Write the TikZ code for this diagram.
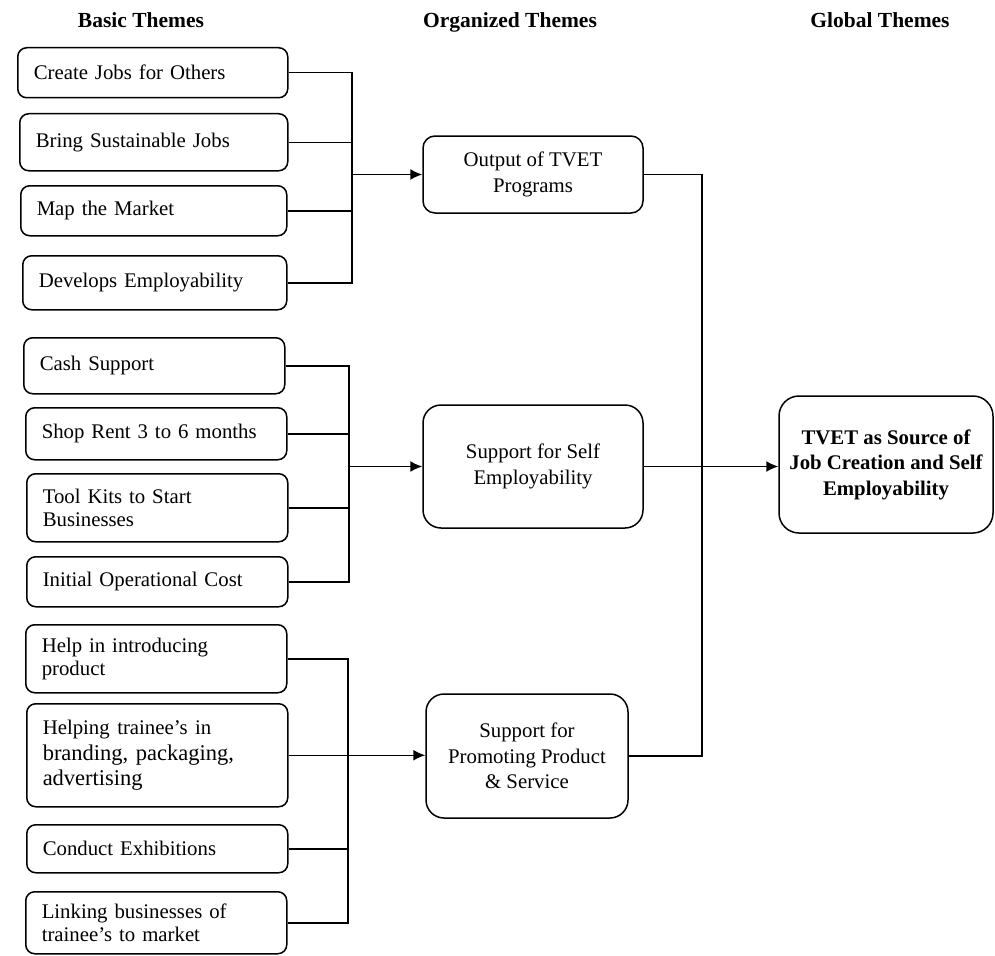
\documentclass[tikz,border=0pt]{standalone}
\usepackage{fontspec}
\setmainfont{Liberation Serif}
\usetikzlibrary{arrows.meta}
\newcommand\fsL{\fontsize{20.8}{23}\selectfont}
\newcommand\fsO{\fontsize{20.8}{25.5}\selectfont}
\newcommand\fsB{\fontsize{22.5}{25.5}\selectfont}
\begin{document}
\begin{tikzpicture}[x=1pt,y=-1pt,
  lbox/.style={draw, line width=1.5pt, rounded corners=9pt, align=left,
    inner xsep=16pt, inner ysep=0pt, anchor=north west, font=\fsL},
  obox/.style={draw, line width=1.5pt, rounded corners=18pt, align=center,
    inner sep=0pt, font=\fsO},
  hdr/.style={font=\fontsize{21.5}{25}\selectfont\bfseries, inner sep=0pt, anchor=base},
  conn/.style={line width=1.5pt},
  arr/.style={line width=1.5pt, -{Latex[length=12pt,width=11pt]}}]
\useasboundingbox (0,0) rectangle (995,955);

% headers
\node[hdr] (h1) at (141,28) {Basic Themes};
\node[hdr] (h2) at (510,28) {Organized Themes};
\node[hdr] (h3) at (880,28) {Global Themes};

% group 1
\node[lbox, text width=238pt, minimum height=50pt] (b1) at (17,47) {Create Jobs for Others};
\node[lbox, text width=236pt, minimum height=57pt] (b2) at (19,113) {Bring Sustainable Jobs};
\node[lbox, text width=234pt, minimum height=50pt] (b3) at (20,185) {Map the Market};
\node[lbox, text width=232pt, minimum height=54pt] (b4) at (22,255) {Develops Employability};

% group 2
\node[lbox, text width=229pt, minimum height=56pt] (c1) at (23,337) {Cash Support};
\node[lbox, text width=229pt, minimum height=52pt] (c2) at (25,407) {Shop Rent 3 to 6 months};
\node[lbox, text width=229pt, minimum height=68pt] (c3) at (26,473) {Tool Kits to Start\\Businesses};
\node[lbox, text width=229pt, minimum height=50pt] (c4) at (26,556) {Initial Operational Cost};

% group 3
\node[lbox, text width=229pt, minimum height=68pt] (d1) at (25,624) {Help in introducing\\product};
\node[lbox, text width=229pt, minimum height=103pt, font=\fsB] (d2) at (26,703) {{\fsL Helping trainee’s in}\\branding, packaging,\\advertising};
\node[lbox, text width=229pt, minimum height=48pt] (d3) at (26,824) {Conduct Exhibitions};
\node[lbox, text width=229pt, minimum height=62pt] (d4) at (25,891) {Linking businesses of\\trainee’s to market};

% organized themes
\node[obox, minimum width=220pt, minimum height=77pt, rounded corners=12pt] (o1) at (533,174.5) {Output of TVET\\Programs};
\node[obox, minimum width=220pt, minimum height=123pt] (s2) at (533,466.5) {Support for Self\\Employability};
\node[obox, minimum width=202pt, minimum height=124pt] (s3) at (527,756) {Support for\\Promoting Product\\\& Service};

% global theme
\node[obox, font=\fsO\bfseries, minimum width=214pt, minimum height=137pt, rounded corners=20pt] (g) at (886,464.5) {TVET as Source of\\Job Creation and Self\\Employability};

% bus coordinates
\coordinate (k1) at (352,0);
\coordinate (k2) at (349,0);
\coordinate (k3) at (348,0);
\coordinate (k4) at (702,0);

% group 1 connectors
\draw[conn] (b1.east) -| (b4.east -| k1) -- (b4.east);
\draw[conn] (b2.east) -- (b2.east -| k1);
\draw[conn] (b3.east) -- (b3.east -| k1);
\draw[arr] (o1.west -| k1) -- (o1.west);

% group 2 connectors
\draw[conn] (c1.east) -| (c4.east -| k2) -- (c4.east);
\draw[conn] (c2.east) -- (c2.east -| k2);
\draw[conn] (c3.east) -- (c3.east -| k2);
\draw[arr] (s2.west -| k2) -- (s2.west);

% group 3 connectors
\draw[conn] (d1.east) -| (d4.east -| k3) -- (d4.east);
\draw[conn] (d3.east) -- (d3.east -| k3);
\draw[arr] (d2.east) -- (d2.east -| s3.west);

% right side
\draw[conn] (o1.east) -| (s3.east -| k4) -- (s3.east);
\draw[arr] (s2.east) -- (s2.east -| g.west);
\end{tikzpicture}
\end{document}
